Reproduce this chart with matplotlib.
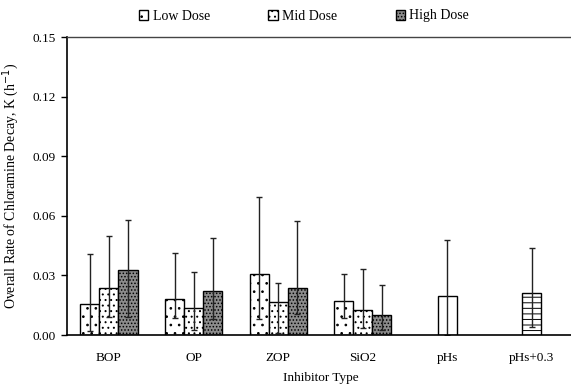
import matplotlib.pyplot as plt
import numpy as np

plt.rcParams['font.family'] = ['Liberation Serif', 'DejaVu Serif']
plt.rcParams['font.size'] = 9.5
plt.rcParams['hatch.linewidth'] = 0.7

groups = ['BOP', 'OP', 'ZOP', 'SiO2']
low = [0.0155, 0.0180, 0.0306, 0.0171]
mid = [0.0237, 0.0137, 0.0166, 0.0124]
high = [0.0329, 0.0220, 0.0238, 0.0101]
# error bar ends (lower, upper)
low_lo = [0.0022, 0.0087, 0.0079, 0.0084]
low_hi = [0.0406, 0.0414, 0.0695, 0.0306]
mid_lo = [0.0092, 0.0025, 0.0008, 0.0034]
mid_hi = [0.0498, 0.0319, 0.0263, 0.0331]
high_lo = [0.0089, 0.0079, 0.0104, 0.0024]
high_hi = [0.0577, 0.0488, 0.0575, 0.0252]

ph_labels = ['pHs', 'pHs+0.3']
ph_vals = [0.0198, 0.0213]
ph_lo = [0.0, 0.0039]
ph_hi = [0.0477, 0.0438]

categories = groups + ph_labels

fig = plt.figure(figsize=(5.71, 3.88), dpi=100)
ax = fig.add_axes([66.7/571, 53/388, 507.3/571, 298/388])

w = 0.225
x = np.arange(len(groups))
ekw = dict(ecolor='#222222', elinewidth=1, capsize=2.5, capthick=1)

def yerr(v, lo, hi):
    v = np.array(v)
    return [v - np.array(lo), np.array(hi) - v]

b1 = ax.bar(x - w, low, w, color='white', edgecolor='black', linewidth=1,
            hatch='..', yerr=yerr(low, low_lo, low_hi), error_kw=ekw, label='Low Dose')
b2 = ax.bar(x, mid, w, color='white', edgecolor='black', linewidth=1,
            hatch='...', yerr=yerr(mid, mid_lo, mid_hi), error_kw=ekw, label='Mid Dose')
b3 = ax.bar(x + w, high, w, color='#8c8c8c', edgecolor='black', linewidth=1,
            hatch='.....', yerr=yerr(high, high_lo, high_hi), error_kw=ekw, label='High Dose')

xp = np.arange(len(groups), len(categories))
ax.bar(xp[0], ph_vals[0], w, color='white', edgecolor='black', linewidth=1,
       yerr=[[ph_vals[0] - ph_lo[0]], [ph_hi[0] - ph_vals[0]]], error_kw=ekw)
ax.bar(xp[1], ph_vals[1], w, color='white', edgecolor='black', linewidth=1,
       hatch='---', yerr=[[ph_vals[1] - ph_lo[1]], [ph_hi[1] - ph_vals[1]]], error_kw=ekw)

ax.set_xlim(-0.5, 5.5)
ax.set_ylim(0, 0.15)
yt = [0, 0.03, 0.06, 0.09, 0.12, 0.15]
ax.set_yticks(yt)
ax.set_yticklabels(['%.2f' % t for t in yt])
ax.set_xticks(np.arange(len(categories)))
ax.set_xticklabels(categories)
ax.tick_params(axis='x', length=0, pad=12)
ax.tick_params(axis='y', length=4.5, width=1, direction='out', pad=3.5)
ax.spines['right'].set_visible(False)
for s in ['left', 'bottom']:
    ax.spines[s].set_linewidth(1.2)
ax.spines['top'].set_linewidth(1)
ax.spines['top'].set_color('#444444')

ax.set_xlabel('Inhibitor Type', labelpad=6)
ax.set_ylabel('Overall Rate of Chloramine Decay, K (h$^{-1}$)', fontsize=10)
ax.yaxis.set_label_coords(-46/507.3, 0.5)

fig.legend(handles=[b1, b2, b3], loc='center', bbox_to_anchor=(304/571, 1 - 16/388),
           ncol=3, frameon=False, handlelength=0.7, handleheight=0.7,
           handletextpad=0.3, columnspacing=4.2, fontsize=10)

fig.savefig('out.png', dpi=100)
